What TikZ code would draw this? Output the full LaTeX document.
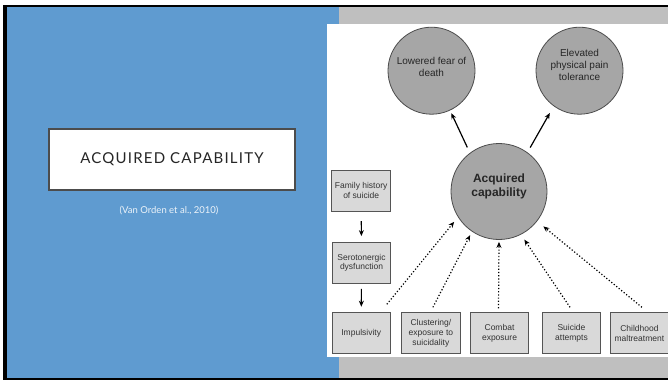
\documentclass[tikz,border=0pt]{standalone}
\usepackage{fontspec}
\setmainfont{Liberation Sans}
\newfontfamily\slidefont{Lato}
\newfontfamily\slidecapsfont[LetterSpace=8]{Lato}
\usetikzlibrary{arrows.meta}
\definecolor{slideblue}{HTML}{5F9BD0}
\definecolor{bandgray}{HTML}{BFBFBF}
\definecolor{circgray}{HTML}{A6A6A6}
\definecolor{boxgray}{HTML}{D9D9D9}
\definecolor{edgegray}{HTML}{555555}

\begin{document}
\begin{tikzpicture}[x=1pt,y=-1pt,
    factor/.style={draw=edgegray,fill=boxgray,line width=0.8pt,minimum width=58.5pt,minimum height=41pt,
      align=center,font=\fontsize{8.5}{9.8}\selectfont,text=black!80},
    outcome/.style={circle,draw=black!70,fill=circgray,line width=0.8pt,minimum size=87pt},
    circtext/.style={align=center,font=\fontsize{10}{11.8}\selectfont,text=black!85},
    solidarr/.style={-{Stealth[length=6pt,width=5pt]},line width=1.2pt},
    dotarr/.style={-{Stealth[length=6pt,width=5pt]},line width=1.2pt,dash pattern=on 1.2pt off 2pt}]
    \useasboundingbox (0,0) rectangle (668,380);
    % slide background
    \fill[white] (0,0) rectangle (668,380);
    \fill[black] (3,5) rectangle (668,380);
    \fill[slideblue] (7,7) rectangle (339,378);
    \fill[bandgray] (339,7) rectangle (668,378);
    \fill[white] (327,24) rectangle (668,357);
    % title
    \node[draw=black!70,line width=1.5pt,fill=white,minimum width=246pt,minimum height=61pt,
      font=\slidecapsfont\fontsize{15}{18}\selectfont,text=black!85] (title) at (172,159.5) {ACQUIRED CAPABILITY};
    \node[font=\slidefont\fontsize{9.5}{11}\selectfont,text=white!88!slideblue] (cite) at (169,211) {(Van Orden et al., 2010)};
    % model
    \node[outcome,label={[circtext,yshift=4pt]center:{Lowered fear of\\death}}] (low) at (431.5,70.7) {};
    \node[outcome,label={[circtext,yshift=5.5pt]center:{Elevated\\physical pain\\tolerance}}] (ele) at (579.5,70.7) {};
    \node[outcome,minimum size=96pt,label={[circtext,font=\bfseries\fontsize{12}{14}\selectfont,yshift=5pt]center:{Acquired\\capability}}] (acq) at (499,191.5) {};
    \node[factor] (fam) at (361.2,190.8) {Family history\\of suicide};
    \node[factor] (sero) at (361.5,262.7) {Serotonergic\\dysfunction};
    \node[factor] (imp) at (361.2,333.2) {Impulsivity};
    \node[factor] (clus) at (430.9,333.2) {Clustering/\\exposure to\\suicidality};
    \node[factor] (comb) at (499.5,333.2) {Combat\\exposure};
    \node[factor] (sui) at (571.5,333.2) {Suicide\\attempts};
    \node[factor] (chi) at (639.4,333.2) {Childhood\\maltreatment};
    \draw[solidarr,shorten <=6pt,shorten >=3pt] (acq.127) -- (low.295);
    \draw[solidarr,shorten <=5.5pt,shorten >=7.8pt] (acq.54) -- (ele.234);
    \draw[solidarr,shorten <=9.3pt,shorten >=5.7pt] (fam) -- (sero);
    \draw[solidarr,shorten <=5.3pt,shorten >=5.6pt] (sero) -- (imp);
    \draw[dotarr,shorten >=6pt] ([xshift=-4pt,yshift=8pt]imp.north east) -- (acq.212);
    \draw[dotarr,shorten >=4pt] ([xshift=2pt,yshift=5pt]clus.north) -- (acq.236);
    \draw[dotarr,shorten >=2pt] ([xshift=-1pt,yshift=4pt]comb.north) -- (acq.270);
    \draw[dotarr,shorten >=6pt] ([xshift=-1.5pt,yshift=5pt]sui.north) -- (acq.297);
    \draw[dotarr,shorten >=8pt] ([xshift=2.5pt,yshift=5pt]chi.north) -- (acq.322);
\end{tikzpicture}
\end{document}
